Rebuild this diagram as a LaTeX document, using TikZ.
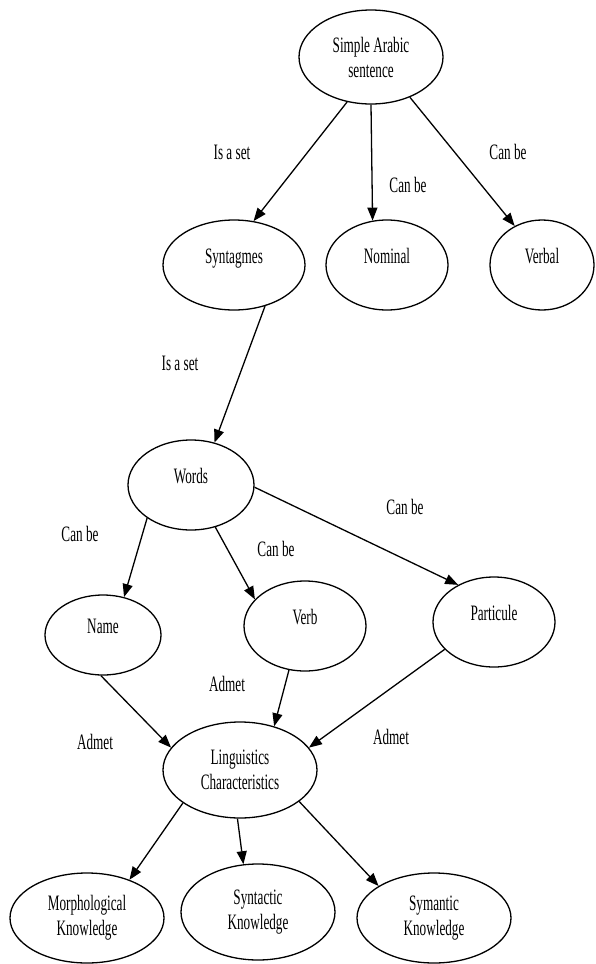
\documentclass[tikz,border=0pt]{standalone}
\usepackage{fontspec}
\setmainfont[FakeStretch=0.6]{Liberation Serif}
\usetikzlibrary{shapes.geometric,arrows.meta}

\begin{document}
\begin{tikzpicture}[x=1pt,y=-1pt,
  every node/.style={font=\fontsize{22}{25}\selectfont},
  concept/.style={ellipse,draw,line width=1.3pt,inner sep=0pt,align=center},
  oneline/.style={text height=14pt,text depth=18pt},
  rel/.style={-{Triangle[length=13pt,width=10pt]},line width=1.3pt}]
  \useasboundingbox (0,0) rectangle (595,964);
  % sentence level
  \node[concept,minimum width=144pt,minimum height=94pt] (sent) at (371,57) {Simple Arabic\\sentence};
  \node[concept,oneline,minimum width=142pt,minimum height=90pt] (synt) at (234,265) {Syntagmes};
  \node[concept,oneline,minimum width=122pt,minimum height=90pt] (nomi) at (387,265) {Nominal};
  \node[concept,oneline,minimum width=104pt,minimum height=90pt] (verbal) at (542,265) {Verbal};
  % word level
  \node[concept,oneline,minimum width=126pt,minimum height=90pt] (words) at (191,485) {Words};
  \node[concept,oneline,minimum width=116pt,minimum height=80pt] (name) at (103,635) {Name};
  \node[concept,oneline,minimum width=122pt,minimum height=90pt] (verb) at (305,626) {Verb};
  \node[concept,oneline,minimum width=122pt,minimum height=90pt] (part) at (494,622) {Particule};
  % characteristics
  \node[concept,minimum width=154pt,minimum height=96pt] (ling) at (240,770) {Linguistics\\Characteristics};
  \node[concept,minimum width=154pt,minimum height=90pt] (morph) at (87,918) {Morphological\\Knowledge};
  \node[concept,minimum width=154pt,minimum height=96pt] (syntac) at (258,912) {Syntactic\\Knowledge};
  \node[concept,minimum width=154pt,minimum height=90pt] (sem) at (434,918) {Symantic\\Knowledge};

  % relations
  \draw[rel] (sent.242) -- (synt.66);
  \draw[rel] (sent.270) -- (nomi.108);
  \draw[rel] (sent.314) -- (verbal.125);
  \draw[rel] (synt.307) -- (words.61);
  \draw[rel] (words.217) -- (name.61);
  \draw[rel] (words.300) -- (verb.152);
  \draw[rel] (words.358) -- (part.134);
  \draw[rel] (name.267) -- (ling.162);
  \draw[rel] (verb.250) -- (ling.52);
  \draw[rel] (part.209) -- (ling.18);
  \draw[rel] (ling.210) -- (morph.42);
  \draw[rel] (ling.267) -- (syntac.107);
  \draw[rel] (ling.332) -- (sem.150);

  % relation labels
  \node (lset1) at (232,152) {Is a set};
  \node (lcan1) at (408,185) {Can be};
  \node (lcan2) at (508,152) {Can be};
  \node (lset2) at (180,363) {Is a set};
  \node (lcan3) at (80,534) {Can be};
  \node (lcan4) at (276,549) {Can be};
  \node (lcan5) at (405,507) {Can be};
  \node (ladm1) at (227,684) {Admet};
  \node (ladm2) at (95,742) {Admet};
  \node (ladm3) at (391,737) {Admet};
\end{tikzpicture}
\end{document}
